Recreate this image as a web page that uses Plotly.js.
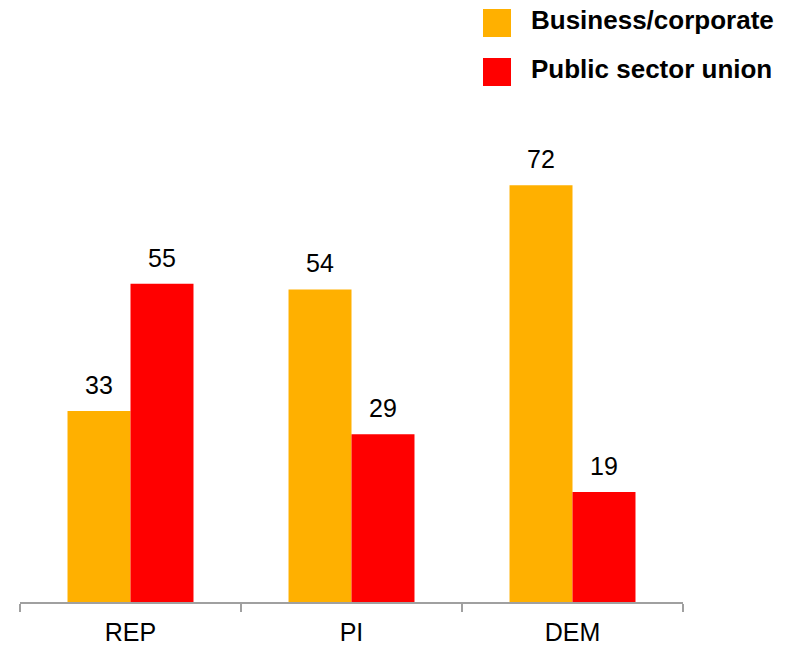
<!DOCTYPE html>
<html><head><meta charset="utf-8">
<script src="https://cdn.plot.ly/plotly-3.0.1.min.js"></script>
<style>body{margin:0;background:#fff}#c{width:794px;height:646px}</style>
</head><body><div id="c"></div>
<script>
const categories = ["REP", "PI", "DEM"];
const business = [33, 54, 72];
const union = [55, 29, 19];
const seriesNames = ["Business/corporate", "Public sector union"];
const colors = ["#FFB000", "#FF0000"];

const traces = [business, union].map((vals, i) => ({
  type: "bar", x: categories, y: vals, name: seriesNames[i],
  marker: {color: colors[i], line: {width: 0}}, hoverinfo: "none"
}));

const FONT = "Arial, Liberation Sans, sans-serif";
const bargap = 0.43;
const half = (1 - bargap) / 4;
const annotations = [];
[business, union].forEach((vals, i) => {
  vals.forEach((v, j) => {
    annotations.push({
      x: j + (i === 0 ? -half : half), y: v, xref: "x", yref: "y",
      text: String(v), showarrow: false, yanchor: "bottom", yshift: 10,
      font: {family: FONT, size: 25, color: "#000"}
    });
  });
});

const L = 20, R = 111, T = 139, B = 44, W = 794, H = 646;
const pw = W - L - R, ph = H - T - B;
// legend (text + squares, placed in pixel terms converted to paper coordinates)
seriesNames.forEach((n, i) => {
  annotations.push({
    x: (529 - L) / pw, y: (H - (20 + i * 49) - B) / ph, xref: "paper", yref: "paper",
    text: "<b>" + n + "</b>", showarrow: false, xanchor: "left", yanchor: "middle",
    font: {family: FONT, size: 26, color: "#000"}
  });
});
const shapes = colors.map((c, i) => {
  const px0 = 483, px1 = 511, py0 = 9 + i * 49, py1 = 37 + i * 49;
  return {type: "rect", xref: "paper", yref: "paper", line: {width: 0}, fillcolor: c,
    x0: (px0 - L) / pw, x1: (px1 - L) / pw, y0: (H - B - py1) / ph, y1: (H - B - py0) / ph};
});

const layout = {
  width: W, height: H,
  margin: {l: L, r: R, t: T, b: B},
  paper_bgcolor: "#fff", plot_bgcolor: "#fff",
  showlegend: false, barmode: "group", bargap: bargap, bargroupgap: 0,
  xaxis: {
    type: "category", range: [-0.5, 2.5], showline: true, linecolor: "#A0A0A0", linewidth: 1.5,
    ticks: "outside", tickson: "boundaries", ticklen: 8, tickcolor: "#A0A0A0", tickwidth: 1.5,
    ticklabelstandoff: 7,
    tickfont: {family: FONT, size: 25, color: "#000"},
    showgrid: false, zeroline: false
  },
  yaxis: {range: [0, 80], visible: false, showgrid: false, zeroline: false},
  annotations: annotations,
  shapes: shapes
};
Plotly.newPlot("c", traces, layout, {staticPlot: true});
</script></body></html>
